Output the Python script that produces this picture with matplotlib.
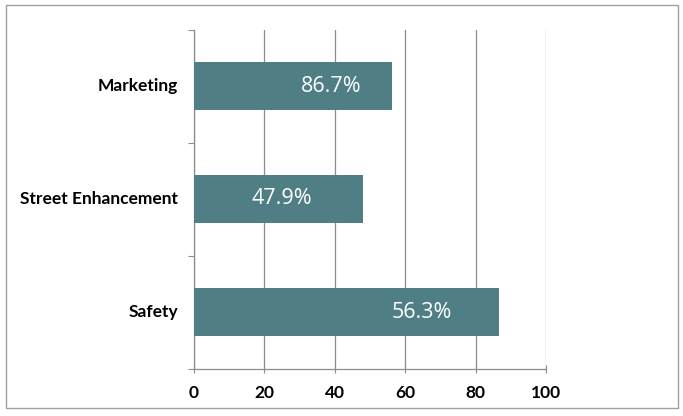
import matplotlib
matplotlib.use("Agg")
import matplotlib.pyplot as plt
from matplotlib.patches import Rectangle

# Categories listed bottom to top
categories = ["Safety", "Street Enhancement", "Marketing"]
bar_values = [86.7, 47.9, 56.3]
# Data labels as printed on the bars (bottom to top)
label_values = bar_values[::-1]
x_ticks = [0, 20, 40, 60, 80, 100]

bar_color = "#4f7e85"
grid_color = "#8c8c8c"

fig = plt.figure(figsize=(6.83, 4.16), dpi=100)
fig.patch.set_facecolor("white")

# outer chart frame
fig.add_artist(Rectangle((6 / 683, 8 / 416), 672 / 683, 403 / 416,
                         transform=fig.transFigure, fill=False,
                         edgecolor="#a0a0a0", linewidth=1.0))

ax = fig.add_axes([194 / 683, 1 - 368.5 / 416, 352 / 683, 339 / 416])
ax.set_xlim(0, 100)
ax.set_ylim(-0.5, 2.5)

ypos = list(range(len(categories)))
ax.barh(ypos, bar_values, height=0.42, color=bar_color, zorder=3)

# label placement as a fraction of each bar's length
label_frac = [0.745, 0.52, 0.69]
for y, v, lab, f in zip(ypos, bar_values, label_values, label_frac):
    ax.text(v * f, y, f"{lab:.1f}%", color="white", ha="center", va="center",
            fontsize=15.5, family="Open Sans", zorder=4)

ax.set_xticks(x_ticks)
ax.set_xticklabels([str(t) for t in x_ticks], fontsize=12.5, fontweight="bold",
                   family="Lato")
ax.xaxis.grid(True, color=grid_color, linewidth=0.9, zorder=0)
ax.tick_params(axis="x", length=6, direction="inout", color=grid_color, pad=9)

# category labels placed at bar centres, ticks at category boundaries
ax.set_yticks([-0.5, 0.5, 1.5, 2.5])
ax.set_yticklabels([])
ax.tick_params(axis="y", length=4, direction="out", color=grid_color)
for y, c in zip(ypos, categories):
    ax.text(-0.045, y, c, transform=ax.get_yaxis_transform(), ha="right",
            va="center", fontsize=12.5, fontweight="bold", family="Lato")

for side in ["top", "right"]:
    ax.spines[side].set_visible(False)
for side in ["left", "bottom"]:
    ax.spines[side].set_color(grid_color)
    ax.spines[side].set_linewidth(0.9)

fig.savefig("out.png", dpi=100)
